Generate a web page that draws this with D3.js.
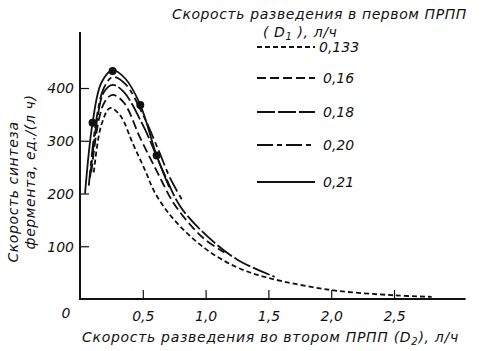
<!DOCTYPE html>
<html>
<head>
<meta charset="utf-8">
<script src="https://cdn.jsdelivr.net/npm/d3@7"></script>
<style>
  body { margin: 0; background: #fff; }
  svg text { font-family: "DejaVu Sans", sans-serif; font-style: italic; fill: #111; }
</style>
</head>
<body>
<div id="chart"></div>
<script>
/* Data */
var xTicks = [0.5, 1.0, 1.5, 2.0, 2.5];
var yTicks = [100, 200, 300, 400];

var seriesNames = ["0,133", "0,16", "0,18", "0,20", "0,21"];

var d2_133 = [0.11, 0.17, 0.24, 0.32, 0.42, 0.52, 0.60, 0.75, 1.0, 1.25, 1.5, 2.0, 2.5, 2.8];
var v_133  = [240, 330, 362, 348, 295, 243, 200, 150, 95, 60, 40, 17, 7, 4];

var d2_16 = [0.09, 0.15, 0.20, 0.26, 0.35, 0.48, 0.61, 0.75, 0.90, 1.0, 1.15];
var v_16  = [240, 340, 375, 387, 372, 305, 243, 180, 135, 112, 88];

var d2_18 = [0.08, 0.14, 0.19, 0.26, 0.35, 0.50, 0.66, 0.80, 1.0, 1.25, 1.55];
var v_18  = [230, 345, 392, 406, 392, 330, 243, 175, 122, 75, 42];

var d2_20 = [0.07, 0.13, 0.19, 0.26, 0.36, 0.50, 0.62, 0.72, 0.82];
var v_20  = [215, 340, 400, 421, 408, 350, 285, 228, 185];

var d2_21 = [0.04, 0.10, 0.17, 0.26, 0.36, 0.48, 0.61, 0.71];
var v_21  = [200, 334, 410, 434, 418, 368, 272, 212];

var dotD2 = [0.10, 0.26, 0.48, 0.61];
var dotV  = [334, 432, 368, 272];

var dashes = ["5,3", "9,4", "18,3", "16,4,5,4", null];

var series = [
  { name: seriesNames[0], xs: d2_133, ys: v_133, dash: dashes[0] },
  { name: seriesNames[1], xs: d2_16,  ys: v_16,  dash: dashes[1] },
  { name: seriesNames[2], xs: d2_18,  ys: v_18,  dash: dashes[2] },
  { name: seriesNames[3], xs: d2_20,  ys: v_20,  dash: dashes[3] },
  { name: seriesNames[4], xs: d2_21,  ys: v_21,  dash: dashes[4] }
];

var W = 498, H = 351;
var svg = d3.select("#chart").append("svg")
  .attr("width", W)
  .attr("height", H);

/* Scales */
var x = d3.scaleLinear().domain([0, 2.5]).range([80, 394]);
var y = d3.scaleLinear().domain([0, 400]).range([299, 88]);

/* Axes */
var yAxis = d3.axisLeft(y).tickValues(yTicks).tickSize(-9).tickPadding(16)
  .tickFormat(d3.format("d"));
var yG = svg.append("g").attr("transform", "translate(80,0)").call(yAxis);
yG.select(".domain").remove();
yG.selectAll(".tick line").attr("stroke", "#111").attr("stroke-width", 1.2);
yG.selectAll(".tick text").attr("font-size", "14px").attr("x", -6).attr("dy", "0.35em");

var xAxis = d3.axisBottom(x).tickValues(xTicks).tickSize(-9).tickPadding(14)
  .tickFormat(function(d){ return d3.format(".1f")(d).replace(".", ","); });
var xG = svg.append("g").attr("transform", "translate(0,299)").call(xAxis);
xG.select(".domain").remove();
xG.selectAll(".tick line").attr("stroke", "#111").attr("stroke-width", 1.2);
xG.selectAll(".tick text").attr("font-size", "14px").attr("y", 12).attr("dy", "0.71em");

// axis lines
svg.append("line").attr("x1", 80).attr("x2", 80).attr("y1", y(506)).attr("y2", y(0))
  .attr("stroke", "#111").attr("stroke-width", 2);
svg.append("line").attr("x1", 79).attr("x2", x(3.07)).attr("y1", y(0)).attr("y2", y(0))
  .attr("stroke", "#111").attr("stroke-width", 2);

// origin label
svg.append("text").attr("x", 66).attr("y", 318).attr("font-size", "14px")
  .attr("text-anchor", "middle").text("0");

/* Curves */
var line = d3.line()
  .x(function(d){ return x(d[0]); })
  .y(function(d){ return y(d[1]); })
  .curve(d3.curveCatmullRom.alpha(0.5));

series.forEach(function(s){
  var pts = s.xs.map(function(v, i){ return [v, s.ys[i]]; });
  svg.append("path")
    .datum(pts)
    .attr("d", line)
    .attr("fill", "none")
    .attr("stroke", "#111")
    .attr("stroke-width", 1.8)
    .attr("stroke-dasharray", s.dash);
});

// experimental points
svg.selectAll("circle.pt")
  .data(dotD2.map(function(v, i){ return [v, dotV[i]]; }))
  .enter().append("circle")
    .attr("class", "pt")
    .attr("cx", function(d){ return x(d[0]); })
    .attr("cy", function(d){ return y(d[1]); })
    .attr("r", 4)
    .attr("fill", "#111");

/* Legend */
svg.append("text").attr("x", 172).attr("y", 19).attr("font-size", "14px")
  .attr("letter-spacing", "0.6px")
  .text("Скорость разведения в первом ПРПП");

var lt = svg.append("text").attr("x", 263).attr("y", 37).attr("font-size", "14px")
  .attr("letter-spacing", "0.6px");
lt.append("tspan").text("( D");
lt.append("tspan").attr("font-size", "10px").attr("dy", 3).text("1");
lt.append("tspan").attr("dy", -3).text(" ), л/ч");

var rowY = [47, 78, 112, 145, 182];
series.forEach(function(s, i){
  svg.append("line")
    .attr("x1", 257).attr("x2", 315)
    .attr("y1", rowY[i]).attr("y2", rowY[i])
    .attr("stroke", "#111").attr("stroke-width", 1.8)
    .attr("stroke-dasharray", s.dash);
  svg.append("text")
    .attr("x", i === 0 ? 319 : 323).attr("y", rowY[i] + 5)
    .attr("font-size", "14px")
    .text(s.name);
});

/* Axis titles */
var xt = svg.append("text").attr("x", 82).attr("y", 342).attr("font-size", "14px")
  .attr("letter-spacing", "0.7px");
xt.append("tspan").text("Скорость разведения во втором ПРПП (D");
xt.append("tspan").attr("font-size", "10px").attr("dy", 3).text("2");
xt.append("tspan").attr("dy", -3).text("), л/ч");

svg.append("text")
  .attr("transform", "translate(18,192) rotate(-90)")
  .attr("text-anchor", "middle").attr("font-size", "14px")
  .attr("letter-spacing", "0.6px")
  .text("Скорость  синтеза");
svg.append("text")
  .attr("transform", "translate(35,172) rotate(-90)")
  .attr("text-anchor", "middle").attr("font-size", "14px")
  .attr("letter-spacing", "0.6px")
  .text("фермента, ед./(л  ч)");
</script>
</body>
</html>
